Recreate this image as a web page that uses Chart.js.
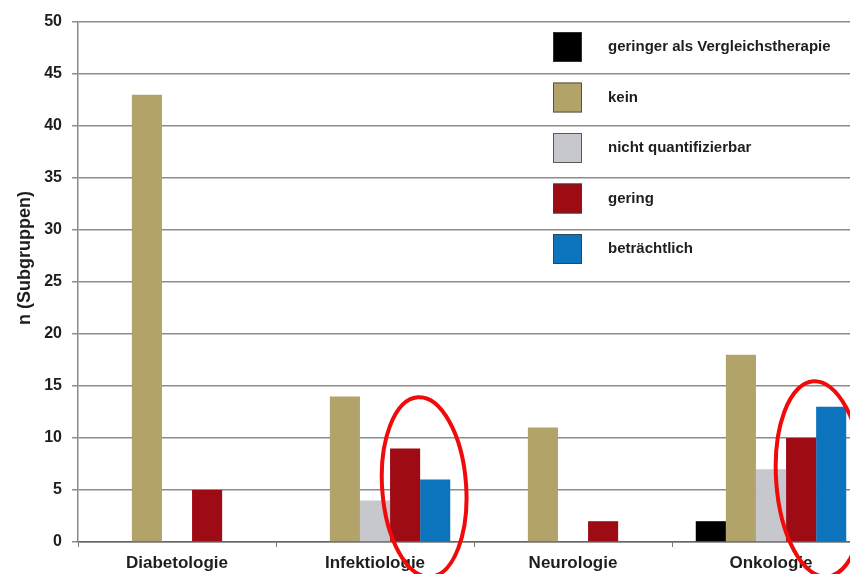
<!DOCTYPE html>
<html lang="de">
<head>
<meta charset="utf-8">
<title>Zusatznutzen nach Therapiegebiet</title>
<script src="https://cdn.jsdelivr.net/npm/chart.js@4/dist/chart.umd.min.js"></script>
<style>
  html, body { margin: 0; padding: 0; background: #fff; overflow: hidden; }
  #wrap { width: 870px; height: 574px; }
</style>
</head>
<body>
<div id="wrap"><canvas id="chart" width="870" height="574"></canvas></div>
<script>
// Data
const categories = ['Diabetologie', 'Infektiologie', 'Neurologie', 'Onkologie'];
const seriesNames = ['geringer als Vergleichstherapie', 'kein', 'nicht quantifizierbar', 'gering', 'beträchtlich'];
const geringerAls = [0, 0, 0, 2];
const kein = [43, 14, 11, 18];
const nichtQuantifizierbar = [0, 4, 0, 7];
const gering = [5, 9, 2, 10];
const betraechtlich = [0, 6, 0, 13];
const yTicks = [0, 5, 10, 15, 20, 25, 30, 35, 40, 45, 50];
const yTitle = 'n (Subgruppen)';

const colors = ['#000000', '#B2A36B', '#C6C8CD', '#9E0B15', '#0B74BD'];
const seriesValues = [geringerAls, kein, nichtQuantifizierbar, gering, betraechtlich];

const FONT = '"Liberation Sans", Arial, sans-serif';

// Legend drawn inside the plot area (top right), plus the y axis title
const legendInside = {
    id: 'legendInside',
    afterDatasetsDraw(chart) {
        const ctx = chart.ctx;
        ctx.save();
        chart.data.datasets.forEach((ds, i) => {
            const y = 32 + i * 50.5;
            ctx.fillStyle = ds.backgroundColor;
            ctx.fillRect(553, y, 29, 30);
            ctx.strokeStyle = 'rgba(60,60,60,0.8)';
            ctx.lineWidth = 1;
            ctx.strokeRect(553.5, y + 0.5, 28, 29);
            ctx.fillStyle = '#1e1e1e';
            ctx.font = 'bold 15px ' + FONT;
            ctx.textBaseline = 'middle';
            ctx.textAlign = 'left';
            ctx.fillText(ds.label, 608, y + 15);
        });

        // y title, sits a bit above the middle of the axis like the original
        ctx.translate(25, 258);
        ctx.rotate(-Math.PI / 2);
        ctx.font = 'bold 18px ' + FONT;
        ctx.textAlign = 'center';
        ctx.textBaseline = 'middle';
        ctx.fillText(yTitle, 0, 0);
        ctx.restore();
    }
};

// Red hand-drawn ellipses around "gering" + "beträchtlich"
const ellipses = {
    id: 'ellipses',
    afterDraw(chart) {
        const ctx = chart.ctx;
        const red = chart.getDatasetMeta(3).data;
        const blue = chart.getDatasetMeta(4).data;
        const bottom = chart.chartArea.bottom;
        const marks = [
            { idx: 1, dy: -55, rx: 42, ry: 90 },
            { idx: 3, dy: -63, rx: 44, ry: 98 }
        ];
        ctx.save();
        ctx.strokeStyle = '#F00A0A';
        ctx.lineWidth = 4;
        marks.forEach(m => {
            const r = red[m.idx], b = blue[m.idx];
            const left = r.x - r.width / 2;
            const right = b.x + b.width / 2;
            const cx = (left + right) / 2 + 4;
            ctx.beginPath();
            ctx.ellipse(cx, bottom + m.dy, m.rx, m.ry, -0.07, 0, Math.PI * 2);
            ctx.stroke();
        });
        ctx.restore();
    }
};

new Chart(document.getElementById('chart').getContext('2d'), {
    type: 'bar',
    data: {
        labels: categories,
        datasets: seriesNames.map((name, i) => ({
            label: name,
            data: seriesValues[i],
            backgroundColor: colors[i],
            borderWidth: 0,
            categoryPercentage: 0.76,
            barPercentage: 1.0
        }))
    },
    options: {
        responsive: false,
        animation: false,
        layout: { padding: { top: 22, right: 0, left: 0, bottom: 0 } },
        scales: {
            x: {
                grid: {
                    drawOnChartArea: false,
                    drawTicks: true,
                    tickLength: 5,
                    offset: true,
                    color: '#777'
                },
                border: { color: '#666', width: 1.5 },
                ticks: {
                    color: '#1e1e1e',
                    font: { family: FONT, size: 17, weight: 'bold' },
                    padding: 6
                },
                afterFit: (scale) => { scale.height = 32; }
            },
            y: {
                min: 0,
                max: 50,
                afterBuildTicks: (scale) => { scale.ticks = yTicks.map(v => ({ value: v })); },
                grid: {
                    color: '#8c8c8c',
                    lineWidth: 1.5,
                    tickLength: 6
                },
                border: { color: '#888', width: 1.5 },
                ticks: {
                    color: '#1e1e1e',
                    font: { family: FONT, size: 16, weight: 'bold' },
                    padding: 10
                },
                afterFit: (scale) => { scale.width = 78; }
            }
        },
        plugins: {
            legend: { display: false },
            tooltip: { enabled: false }
        }
    },
    plugins: [legendInside, ellipses]
});
</script>
</body>
</html>
